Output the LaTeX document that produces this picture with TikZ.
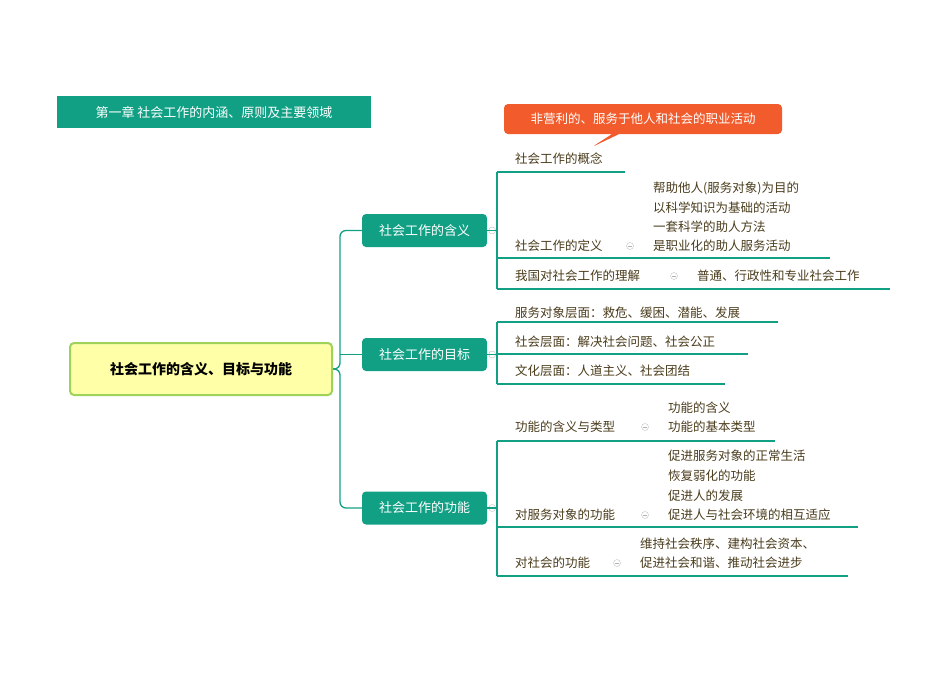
\documentclass[tikz,border=0pt]{standalone}
\usepackage{fontspec}
\setmainfont{Noto Sans CJK SC}
\usetikzlibrary{shapes.callouts}
\definecolor{teal1}{HTML}{12A085}
\definecolor{leaf}{HTML}{4A3C1C}
\definecolor{orng}{HTML}{F25C2C}
\definecolor{ybox}{HTML}{FFFFA8}
\definecolor{ybord}{HTML}{9FD25A}
\begin{document}
\begin{tikzpicture}[x=1pt,y=-1pt,
  lf/.style={anchor=west,inner sep=0pt,text=leaf,font=\fontsize{12.5}{14}\selectfont},
  br/.style={fill=teal1,rounded corners=4pt,text=white,minimum width=125pt,minimum height=33pt,inner sep=0pt,font=\fontsize{13}{15}\selectfont},
  ln/.style={draw=teal1,line width=1.3pt},
  ic/.style={circle,draw=gray!50,line width=0.4pt,minimum size=7pt,inner sep=0pt,path picture={\draw[gray!60,line width=0.4pt] ([xshift=-1.8pt]path picture bounding box.center)--([xshift=1.8pt]path picture bounding box.center);}}]
\useasboundingbox (0,0) rectangle (950,672);
\node[fill=teal1,text=white,minimum width=314pt,minimum height=32pt,inner sep=0pt,font=\fontsize{13}{15}\selectfont] (title) at (214,112) {第一章 社会工作的内涵、原则及主要领域};
\node[fill=ybox,draw=ybord,line width=2pt,rounded corners=4pt,minimum width=262pt,minimum height=52pt,font=\bfseries\fontsize{14}{16}\selectfont] (main) at (201,369) {社会工作的含义、目标与功能};
\node[br] (b1) at (424.5,230.5) {社会工作的含义};
\node[br] (b2) at (424.5,354.5) {社会工作的目标};
\node[br] (b3) at (424.5,508) {社会工作的功能};
\draw[ln,rounded corners=6pt] (main.east) -- (340,369) |- (b1.west);
\draw[ln,rounded corners=6pt] (main.east) -- (340,369) |- (b3.west);
\draw[ln] (340,354.5) -- (b2.west);
\foreach \b in {b1,b2,b3} {\node[ic] at ([xshift=5pt]\b.east) {};}
% branch 1
\coordinate (t1) at (497,172); \coordinate (u1) at (497,289);
\draw[ln] (t1) -- (u1);
\draw[ln] (b1.east) -- (497,230.5);
\draw[ln] (t1) -- (625,172);
\draw[ln] (497,258) -- (830,258);
\draw[ln] (u1) -- (890,289);
\node[lf] (c1) at (515,159) {社会工作的概念};
\node[lf] (c2) at (515,246) {社会工作的定义};
\node[ic] at (630,246) {};
\foreach \t [count=\i] in {帮助他人(服务对象)为目的,以科学知识为基础的活动,一套科学的助人方法,是职业化的助人服务活动}
  \node[lf] at (653,169+19.3*\i) {\t};
\node[lf] (c3) at (515,276) {我国对社会工作的理解};
\node[ic] at (674,276) {};
\node[lf] at (697,276) {普通、行政性和专业社会工作};
% callout
\node[rectangle callout,fill=orng,rounded corners=4pt,minimum width=278pt,minimum height=30pt,inner sep=0pt,text=white,font=\itshape\fontsize{12.5}{14}\selectfont,callout absolute pointer={(592,147)}] (co) at (643,119) {非营利的、服务于他人和社会的职业活动};
% branch 2
\draw[ln] (497,322) -- (497,384);
\draw[ln] (b2.east) -- (497,354.5);
\draw[ln] (497,322) -- (778,322);
\draw[ln] (497,354) -- (748,354);
\draw[ln] (497,384) -- (725,384);
\node[lf] at (515,313) {服务对象层面：救危、缓困、潜能、发展};
\node[lf] at (515,342) {社会层面：解决社会问题、社会公正};
\node[lf] at (515,371) {文化层面：人道主义、社会团结};
% branch 3
\draw[ln] (497,441) -- (497,576);
\draw[ln] (b3.east) -- (497,508);
\draw[ln] (497,441) -- (775,441);
\draw[ln] (497,527) -- (858,527);
\draw[ln] (497,576) -- (848,576);
\node[lf] at (515,427) {功能的含义与类型};
\node[ic] at (645,427) {};
\node[lf] at (668,408) {功能的含义};
\node[lf] at (668,427) {功能的基本类型};
\node[lf] at (515,515) {对服务对象的功能};
\node[ic] at (645,515) {};
\foreach \t [count=\i] in {促进服务对象的正常生活,恢复弱化的功能,促进人的发展,促进人与社会环境的相互适应}
  \node[lf] at (668,436.5+19.6*\i) {\t};
\node[lf] at (515,563) {对社会的功能};
\node[ic] at (617,563) {};
\node[lf] at (640,544) {维持社会秩序、建构社会资本、};
\node[lf] at (640,563) {促进社会和谐、推动社会进步};
\end{tikzpicture}
\end{document}
